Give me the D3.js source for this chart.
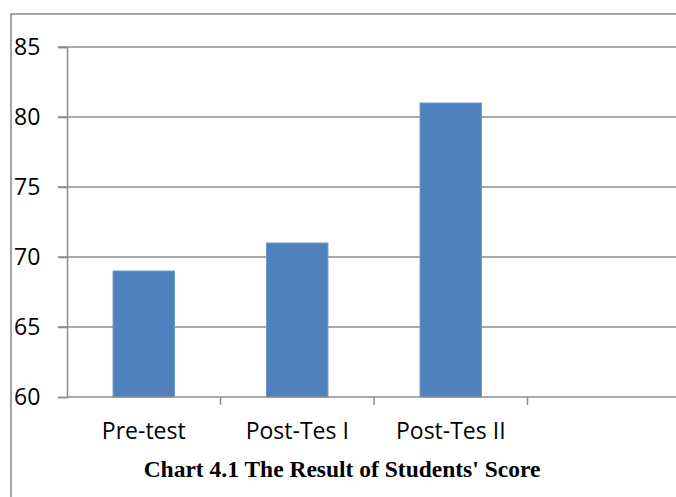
<html lang="en">
<head>
<meta charset="UTF-8">
<script src="https://cdn.jsdelivr.net/npm/d3@7"></script>
<style>
  body { margin: 0; background: #fff; }
</style>
</head>
<body>
<svg></svg>
<script>
// data
const categories = ["Pre-test", "Post-Tes I", "Post-Tes II", ""]
const scores = [69, 71, 81]
const yTicks = [60, 65, 70, 75, 80, 85]
const title = "Chart 4.1 The Result of Students' Score"

const width = 676, height = 497
const svg = d3.select('svg').attr('width', width).attr('height', height)

// outer frame
svg.append('path')
  .attr('d', `M11,${height + 5}V14H${width + 5}`)
  .attr('fill', 'none')
  .attr('stroke', '#878787')
  .attr('stroke-width', 1.5)

const x = d3.scaleBand().domain(categories).range([67, 681])
const y = d3.scaleLinear().domain([60, 85]).range([397, 47])

// gridlines
svg.append('g').selectAll('line')
  .data(yTicks.filter(d => d > 60))
  .enter().append('line')
  .attr('x1', 58).attr('x2', width)
  .attr('y1', d => y(d)).attr('y2', d => y(d))
  .attr('stroke', '#8c8c8c').attr('stroke-width', 1.5)

// bars
svg.append('g').selectAll('rect')
  .data(scores)
  .enter().append('rect')
  .attr('x', (d, i) => x(categories[i]) + x.bandwidth() * 0.3)
  .attr('width', x.bandwidth() * 0.4)
  .attr('y', d => y(d))
  .attr('height', d => y(60) - y(d))
  .attr('fill', '#4f81bd')
  .attr('stroke', '#6f97c9')
  .attr('stroke-width', 1)

// y axis
const yAxis = svg.append('g')
  .attr('transform', 'translate(67,0)')
  .call(d3.axisLeft(y).tickValues(yTicks).tickSize(9).tickPadding(16))
yAxis.select('.domain').attr('stroke', '#8c8c8c').attr('stroke-width', 1.5)
yAxis.selectAll('.tick line').attr('stroke', '#8c8c8c').attr('stroke-width', 1.5)
yAxis.selectAll('text')
  .attr('font-family', 'Open Sans').attr('font-size', 23).attr('fill', '#000')
  .attr('text-anchor', 'start').attr('x', -53)

// x axis
const xAxis = svg.append('g')
  .attr('transform', 'translate(0,397)')
  .call(d3.axisBottom(x).tickSize(0).tickPadding(36))
xAxis.select('.domain').attr('d', `M67,0H${width}`).attr('stroke', '#8c8c8c').attr('stroke-width', 1.5)
xAxis.selectAll('text')
  .attr('font-family', 'Open Sans').attr('font-size', 23).attr('fill', '#000')
  .attr('dy', 0).attr('y', 42)
// category separators
xAxis.append('g').selectAll('line')
  .data(categories.slice(1))
  .enter().append('line')
  .attr('x1', d => x(d)).attr('x2', d => x(d))
  .attr('y1', 0).attr('y2', 8)
  .attr('stroke', '#8c8c8c').attr('stroke-width', 1.5)

// caption
svg.append('text')
  .attr('x', 342).attr('y', 477)
  .attr('text-anchor', 'middle')
  .attr('font-family', 'Liberation Serif').attr('font-weight', 'bold')
  .attr('font-size', 23.5)
  .text(title)
</script>
</body>
</html>
